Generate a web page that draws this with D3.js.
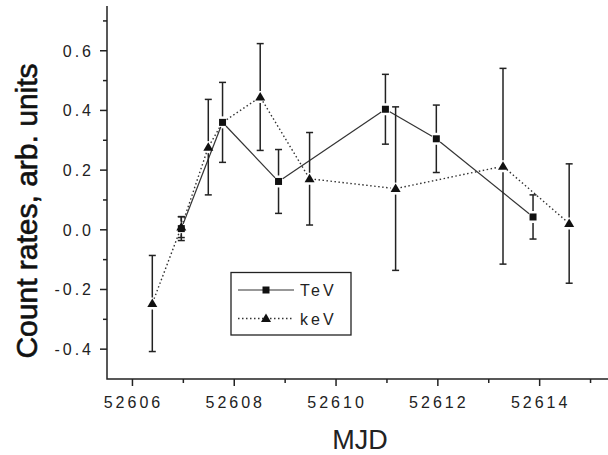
<!DOCTYPE html>
<html>
  <head>
    <meta charset="utf-8">
    <script src="https://cdn.jsdelivr.net/npm/d3@7"></script>
    <style>
      body {
        margin: 0;
        background: #ffffff;
      }

      svg {
        display: block;
        font-family: "Liberation Sans", Arial, sans-serif;
      }

      .tick-label {
        font-size: 16px;
        letter-spacing: 3px;
        fill: #222;
      }

      .axis-line {
        stroke: #222;
        stroke-width: 1.5px;
        fill: none;
      }

      .err {
        stroke: #222;
        stroke-width: 1.5px;
      }

      .tev-line {
        stroke: #333;
        stroke-width: 1.2px;
        fill: none;
      }

      .kev-line {
        stroke: #333;
        stroke-width: 1.4px;
        stroke-dasharray: 1.5 2.5;
        fill: none;
      }
    </style>
  </head>
  <body>
    <script>
      // TeV (squares, solid line)
      const tevMjd = [52606.96, 52607.77, 52608.87, 52610.97, 52611.97, 52613.87];
      const tevRate = [0.004, 0.36, 0.162, 0.404, 0.305, 0.043];
      const tevErr = [0.04, 0.134, 0.107, 0.117, 0.113, 0.074];

      // keV (triangles, dotted line); null error = point with no symbol
      const kevMjd = [52606.39, 52606.96, 52607.49, 52607.77, 52608.51, 52609.48, 52611.17, 52613.28, 52614.58];
      const kevRate = [-0.247, 0.009, 0.277, 0.36, 0.445, 0.171, 0.138, 0.213, 0.021];
      const kevErr = [0.161, 0.035, 0.16, null, 0.179, 0.155, 0.274, 0.328, 0.2];

      const xMajorTicks = [52606, 52608, 52610, 52612, 52614];
      const xMinorTicks = [52607, 52609, 52611, 52613, 52615];
      const yMajorTicks = [-0.4, -0.2, 0.0, 0.2, 0.4, 0.6];
      const yMinorTicks = [-0.3, -0.1, 0.1, 0.3, 0.5, 0.7];

      const seriesNames = ['TeV', 'keV'];

      const width = 608;
      const height = 455;

      const xScale = d3.scaleLinear()
        .domain([52605.5, 52615.5])
        .range([107, 616]);

      const yScale = d3.scaleLinear()
        .domain([-0.5, 0.75])
        .range([379, 6]);

      const svg = d3.select('body')
        .append('svg')
        .attr('width', width)
        .attr('height', height);

      const toPoints = (xs, ys, es) => xs.map((x, i) => ({mjd: x, rate: ys[i], err: es[i]}));
      const tev = toPoints(tevMjd, tevRate, tevErr);
      const kev = toPoints(kevMjd, kevRate, kevErr);

      // axes
      svg.append('path')
        .classed('axis-line', true)
        .attr('d', `M${xScale.range()[0]},${yScale.range()[1]}V${yScale.range()[0]}H${width}`);

      const xAxisG = svg.append('g');
      xAxisG.selectAll().data(xMajorTicks.concat(xMinorTicks))
        .enter()
        .append('line')
        .classed('axis-line', true)
        .attr('x1', d => xScale(d))
        .attr('x2', d => xScale(d))
        .attr('y1', yScale(-0.5))
        .attr('y2', d => yScale(-0.5) + (xMajorTicks.includes(d) ? 7 : 4));
      xAxisG.selectAll().data(xMajorTicks)
        .enter()
        .append('text')
        .classed('tick-label', true)
        .attr('x', d => xScale(d) + 1)
        .attr('y', 408)
        .attr('text-anchor', 'middle')
        .text(d => d);

      const yAxisG = svg.append('g');
      yAxisG.selectAll().data(yMajorTicks.concat(yMinorTicks))
        .enter()
        .append('line')
        .classed('axis-line', true)
        .attr('x1', xScale(52605.5))
        .attr('x2', d => xScale(52605.5) - (yMajorTicks.includes(d) ? 7 : 4))
        .attr('y1', d => yScale(d))
        .attr('y2', d => yScale(d));
      yAxisG.selectAll().data(yMajorTicks)
        .enter()
        .append('text')
        .classed('tick-label', true)
        .attr('x', 94)
        .attr('y', d => yScale(d) + 6)
        .attr('text-anchor', 'end')
        .text(d => d.toFixed(1));

      svg.append('text')
        .attr('transform', 'translate(37,211) rotate(-90)')
        .attr('text-anchor', 'middle')
        .style('font-size', '30px')
        .style('fill', '#111')
        .style('stroke', '#111')
        .style('stroke-width', '0.6px')
        .text('Count rates, arb. units');

      svg.append('text')
        .attr('x', 360)
        .attr('y', 449)
        .attr('text-anchor', 'middle')
        .style('font-size', '27px')
        .style('fill', '#222')
        .text('MJD');

      // connecting lines, with a gap around each point like Origin does
      const gap = 5;
      const segments = pts => d3.pairs(pts).map(([a, b]) => {
        const x1 = xScale(a.mjd), y1 = yScale(a.rate);
        const x2 = xScale(b.mjd), y2 = yScale(b.rate);
        const len = Math.hypot(x2 - x1, y2 - y1);
        const ux = (x2 - x1) / len, uy = (y2 - y1) / len;
        return {x1: x1 + ux * gap, y1: y1 + uy * gap, x2: x2 - ux * gap, y2: y2 - uy * gap};
      });

      const drawLines = (pts, cls) => {
        svg.selectAll().data(segments(pts))
          .enter()
          .append('line')
          .classed(cls, true)
          .attr('x1', d => d.x1)
          .attr('y1', d => d.y1)
          .attr('x2', d => d.x2)
          .attr('y2', d => d.y2);
      };

      const drawErrors = pts => {
        const g = svg.append('g').classed('err', true);
        const withErr = pts.filter(d => d.err !== null);
        withErr.forEach(d => {
          const x = xScale(d.mjd);
          const y = yScale(d.rate);
          const yHi = yScale(d.rate + d.err);
          const yLo = yScale(d.rate - d.err);
          if (y - yHi > 6) {
            g.append('line').attr('x1', x).attr('x2', x).attr('y1', y - 6).attr('y2', yHi);
          }
          if (yLo - y > 6) {
            g.append('line').attr('x1', x).attr('x2', x).attr('y1', y + 6).attr('y2', yLo);
          }
          g.append('line').attr('x1', x - 3.5).attr('x2', x + 3.5).attr('y1', yHi).attr('y2', yHi);
          g.append('line').attr('x1', x - 3.5).attr('x2', x + 3.5).attr('y1', yLo).attr('y2', yLo);
        });
      };

      const squarePath = (cx, cy) => `M${cx - 3.5},${cy - 3.5}h7v7h-7Z`;
      const trianglePath = (cx, cy) => `M${cx},${cy - 5}L${cx + 5},${cy + 3.5}L${cx - 5},${cy + 3.5}Z`;

      drawLines(kev, 'kev-line');
      drawLines(tev, 'tev-line');
      drawErrors(kev);
      drawErrors(tev);

      svg.selectAll().data(kev.filter(d => d.err !== null))
        .enter()
        .append('path')
        .attr('d', d => trianglePath(xScale(d.mjd), yScale(d.rate)))
        .style('fill', '#111');

      svg.selectAll().data(tev)
        .enter()
        .append('path')
        .attr('d', d => squarePath(xScale(d.mjd), yScale(d.rate)))
        .style('fill', '#111');

      // legend
      const legend = svg.append('g');
      legend.append('rect')
        .attr('x', 231)
        .attr('y', 272.5)
        .attr('width', 120)
        .attr('height', 62.5)
        .style('fill', 'none')
        .style('stroke', '#222')
        .style('stroke-width', '1.3px');

      const legendRows = seriesNames.map((name, i) => ({name, y: 290 + i * 28.5}));
      legendRows.forEach((row, i) => {
        legend.append('line')
          .classed(i === 0 ? 'tev-line' : 'kev-line', true)
          .attr('x1', 238)
          .attr('x2', 294)
          .attr('y1', row.y)
          .attr('y2', row.y);
        legend.append('path')
          .attr('d', i === 0 ? squarePath(266, row.y) : trianglePath(266, row.y))
          .style('fill', '#111');
        legend.append('text')
          .classed('tick-label', true)
          .attr('x', 300)
          .attr('y', row.y + 6)
          .text(row.name);
      });
    </script>
  </body>
</html>
